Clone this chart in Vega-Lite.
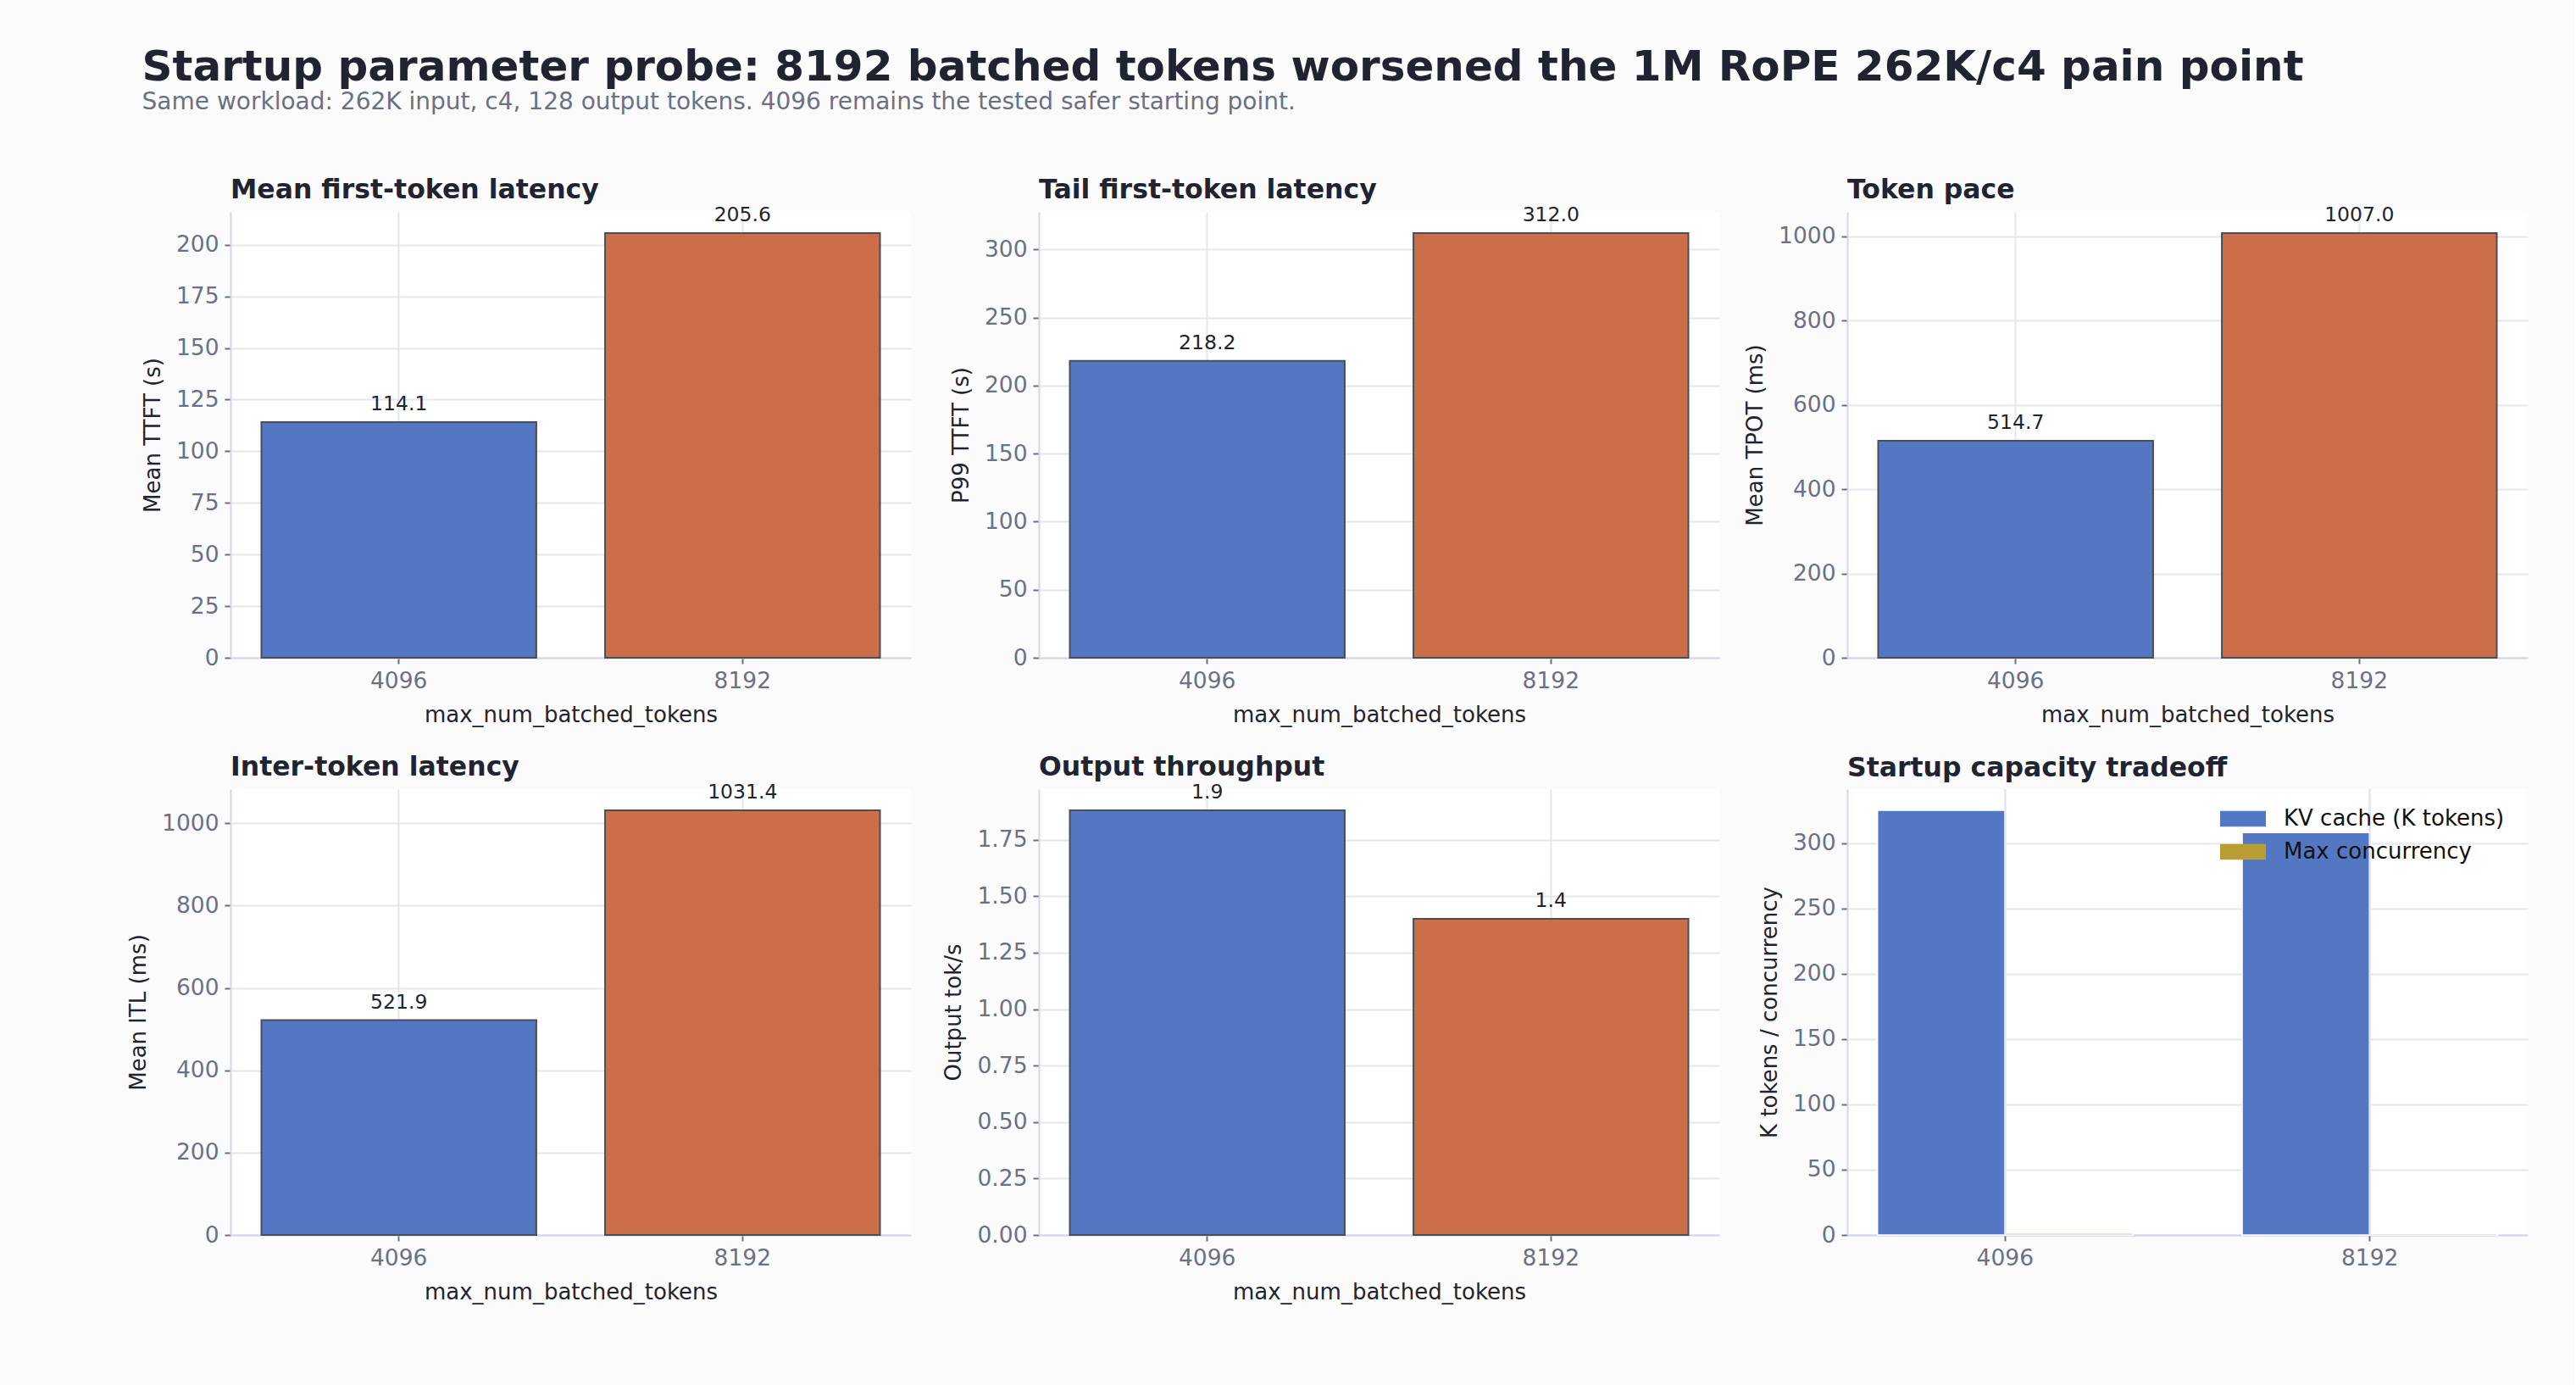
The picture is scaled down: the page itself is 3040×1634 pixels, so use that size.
{
  "$schema": "https://vega.github.io/schema/vega-lite/v6.json",
  "background": "#fbfbfc",
  "padding": {"left": 150, "top": 54, "right": 56, "bottom": 98},
  "title": {
    "text": "Startup parameter probe: 8192 batched tokens worsened the 1M RoPE 262K/c4 pain point",
    "subtitle": "Same workload: 262K input, c4, 128 output tokens. 4096 remains the tested safer starting point.",
    "anchor": "start",
    "frame": "bounds",
    "dx": 17,
    "fontSize": 50,
    "fontWeight": "bold",
    "color": "#1f2430",
    "subtitleFontSize": 28,
    "subtitleColor": "#6b7185",
    "subtitlePadding": 2,
    "offset": 74
  },
  "datasets": {
    "metrics": [
      {"panel": "ttft_mean", "batch": "4096", "value": 114.1},
      {"panel": "ttft_mean", "batch": "8192", "value": 205.6},
      {"panel": "ttft_p99", "batch": "4096", "value": 218.2},
      {"panel": "ttft_p99", "batch": "8192", "value": 312.0},
      {"panel": "tpot", "batch": "4096", "value": 514.7},
      {"panel": "tpot", "batch": "8192", "value": 1007.0},
      {"panel": "itl", "batch": "4096", "value": 521.9},
      {"panel": "itl", "batch": "8192", "value": 1031.4},
      {"panel": "throughput", "batch": "4096", "value": 1.88},
      {"panel": "throughput", "batch": "8192", "value": 1.40}
    ],
    "capacity": [
      {"batch": "4096", "series": "KV cache (K tokens)", "value": 325},
      {"batch": "4096", "series": "Max concurrency", "value": 1.25},
      {"batch": "8192", "series": "KV cache (K tokens)", "value": 308},
      {"batch": "8192", "series": "Max concurrency", "value": 1.2}
    ]
  },
  "columns": 3,
  "bounds": "flush",
  "spacing": {"row": 155, "column": 151},
  "resolve": {"scale": {"color": "independent"}, "legend": {"color": "independent"}},
  "concat": [
    {
      "title": "Mean first-token latency",
      "width": 803, "height": 526,
      "data": {"name": "metrics"},
      "transform": [{"filter": "datum.panel === 'ttft_mean'"}],
      "encoding": {
        "x": {"field": "batch", "type": "nominal", "sort": ["4096", "8192"], "scale": {"paddingInner": 0.2, "paddingOuter": 0.09}, "axis": {"title": "max_num_batched_tokens", "grid": true, "bandPosition": 0.5}},
        "y": {"field": "value", "type": "quantitative", "scale": {"domain": [0, 215.88], "nice": false}, "axis": {"title": "Mean TTFT (s)", "format": "d", "values": [0, 25, 50, 75, 100, 125, 150, 175, 200]}}
      },
      "layer": [
        {"mark": {"type": "bar", "stroke": "#4a4e57", "strokeWidth": 2}, "encoding": {"color": {"field": "batch", "type": "nominal", "scale": {"domain": ["4096", "8192"], "range": ["#5477c4", "#cc6f48"]}, "legend": null}}},
        {"mark": {"type": "text", "dy": -14, "baseline": "alphabetic", "fontSize": 23.5, "color": "#1f2430"}, "encoding": {"text": {"field": "value", "type": "quantitative", "format": ".1f"}}}
      ]
    },
    {
      "title": "Tail first-token latency",
      "width": 803, "height": 526,
      "data": {"name": "metrics"},
      "transform": [{"filter": "datum.panel === 'ttft_p99'"}],
      "encoding": {
        "x": {"field": "batch", "type": "nominal", "sort": ["4096", "8192"], "scale": {"paddingInner": 0.2, "paddingOuter": 0.09}, "axis": {"title": "max_num_batched_tokens", "grid": true, "bandPosition": 0.5}},
        "y": {"field": "value", "type": "quantitative", "scale": {"domain": [0, 327.6], "nice": false}, "axis": {"title": "P99 TTFT (s)", "format": "d", "values": [0, 50, 100, 150, 200, 250, 300]}}
      },
      "layer": [
        {"mark": {"type": "bar", "stroke": "#4a4e57", "strokeWidth": 2}, "encoding": {"color": {"field": "batch", "type": "nominal", "scale": {"domain": ["4096", "8192"], "range": ["#5477c4", "#cc6f48"]}, "legend": null}}},
        {"mark": {"type": "text", "dy": -14, "baseline": "alphabetic", "fontSize": 23.5, "color": "#1f2430"}, "encoding": {"text": {"field": "value", "type": "quantitative", "format": ".1f"}}}
      ]
    },
    {
      "title": "Token pace",
      "width": 803, "height": 526,
      "data": {"name": "metrics"},
      "transform": [{"filter": "datum.panel === 'tpot'"}],
      "encoding": {
        "x": {"field": "batch", "type": "nominal", "sort": ["4096", "8192"], "scale": {"paddingInner": 0.2, "paddingOuter": 0.09}, "axis": {"title": "max_num_batched_tokens", "grid": true, "bandPosition": 0.5}},
        "y": {"field": "value", "type": "quantitative", "scale": {"domain": [0, 1057.35], "nice": false}, "axis": {"title": "Mean TPOT (ms)", "format": "d", "values": [0, 200, 400, 600, 800, 1000]}}
      },
      "layer": [
        {"mark": {"type": "bar", "stroke": "#4a4e57", "strokeWidth": 2}, "encoding": {"color": {"field": "batch", "type": "nominal", "scale": {"domain": ["4096", "8192"], "range": ["#5477c4", "#cc6f48"]}, "legend": null}}},
        {"mark": {"type": "text", "dy": -14, "baseline": "alphabetic", "fontSize": 23.5, "color": "#1f2430"}, "encoding": {"text": {"field": "value", "type": "quantitative", "format": ".1f"}}}
      ]
    },
    {
      "title": "Inter-token latency",
      "width": 803, "height": 526,
      "data": {"name": "metrics"},
      "transform": [{"filter": "datum.panel === 'itl'"}],
      "encoding": {
        "x": {"field": "batch", "type": "nominal", "sort": ["4096", "8192"], "scale": {"paddingInner": 0.2, "paddingOuter": 0.09}, "axis": {"title": "max_num_batched_tokens", "grid": true, "bandPosition": 0.5}},
        "y": {"field": "value", "type": "quantitative", "scale": {"domain": [0, 1082.97], "nice": false}, "axis": {"title": "Mean ITL (ms)", "format": "d", "values": [0, 200, 400, 600, 800, 1000]}}
      },
      "layer": [
        {"mark": {"type": "bar", "stroke": "#4a4e57", "strokeWidth": 2}, "encoding": {"color": {"field": "batch", "type": "nominal", "scale": {"domain": ["4096", "8192"], "range": ["#5477c4", "#cc6f48"]}, "legend": null}}},
        {"mark": {"type": "text", "dy": -14, "baseline": "alphabetic", "fontSize": 23.5, "color": "#1f2430"}, "encoding": {"text": {"field": "value", "type": "quantitative", "format": ".1f"}}}
      ]
    },
    {
      "title": "Output throughput",
      "width": 803, "height": 526,
      "data": {"name": "metrics"},
      "transform": [{"filter": "datum.panel === 'throughput'"}],
      "encoding": {
        "x": {"field": "batch", "type": "nominal", "sort": ["4096", "8192"], "scale": {"paddingInner": 0.2, "paddingOuter": 0.09}, "axis": {"title": "max_num_batched_tokens", "grid": true, "bandPosition": 0.5}},
        "y": {"field": "value", "type": "quantitative", "scale": {"domain": [0, 1.974], "nice": false}, "axis": {"title": "Output tok/s", "format": ".2f", "values": [0, 0.25, 0.5, 0.75, 1.0, 1.25, 1.5, 1.75]}}
      },
      "layer": [
        {"mark": {"type": "bar", "stroke": "#4a4e57", "strokeWidth": 2}, "encoding": {"color": {"field": "batch", "type": "nominal", "scale": {"domain": ["4096", "8192"], "range": ["#5477c4", "#cc6f48"]}, "legend": null}}},
        {"mark": {"type": "text", "dy": -14, "baseline": "alphabetic", "fontSize": 23.5, "color": "#1f2430"}, "encoding": {"text": {"field": "value", "type": "quantitative", "format": ".1f"}}}
      ]
    },
    {
      "title": {"text": "Startup capacity tradeoff", "offset": 8},
      "width": 803, "height": 526,
      "data": {"name": "capacity"},
      "encoding": {
        "x": {"field": "batch", "type": "nominal", "sort": ["4096", "8192"], "scale": {"paddingInner": 0.3, "paddingOuter": 0.083}, "axis": {"title": null, "grid": true, "bandPosition": 0.5}}
      },
      "layer": [
        {
          "mark": {"type": "bar", "stroke": "#ffffff", "strokeWidth": 1.5},
          "encoding": {
            "xOffset": {"field": "series", "type": "nominal", "sort": ["KV cache (K tokens)", "Max concurrency"], "scale": {"paddingInner": 0.0, "paddingOuter": 0}},
            "y": {"field": "value", "type": "quantitative", "scale": {"domain": [0, 341.25], "nice": false}, "axis": {"title": "K tokens / concurrency", "format": "d", "values": [0, 50, 100, 150, 200, 250, 300]}},
            "color": {"field": "series", "type": "nominal", "scale": {"domain": ["KV cache (K tokens)", "Max concurrency"], "range": ["#5477c4", "#b89d35"]}, "legend": {"title": null, "orient": "none", "legendX": 453, "legendY": 21, "padding": 0, "labelFontSize": 26, "labelColor": "#111111", "labelFont": "DejaVu Sans", "labelLimit": 800, "symbolType": "M-1.93,-0.66L1.93,-0.66L1.93,0.66L-1.93,0.66Z", "symbolSize": 784, "symbolStrokeWidth": 0, "symbolOpacity": 1, "labelOffset": 34, "rowPadding": 12}}
          }
        },
        {
          "mark": {"type": "rule", "color": "#e4e7f0", "strokeWidth": 2},
          "encoding": {"x": {"field": "batch", "type": "nominal", "sort": ["4096", "8192"], "bandPosition": 0.5}}
        }
      ]
    }
  ],
  "config": {
    "font": "DejaVu Sans",
    "view": {"fill": "#ffffff", "stroke": null},
    "axis": {
      "zindex": 1,
      "gridColor": "#e4e7f0",
      "gridWidth": 2,
      "domainColor": "#d3d7e6",
      "domainWidth": 2,
      "tickColor": "#6b7185",
      "tickWidth": 2,
      "tickSize": 7,
      "labelColor": "#6b7185",
      "labelFontSize": 26.5,
      "labelFont": "DejaVu Sans",
      "labelPadding": 7,
      "titleColor": "#1f2430",
      "titleFontSize": 26,
      "titleFontWeight": "normal",
      "titleFont": "DejaVu Sans",
      "titlePadding": 14
    },
    "axisX": {"labelAngle": 0},
    "title": {"anchor": "start", "frame": "group", "fontSize": 31.5, "fontWeight": "bold", "color": "#1f2430", "offset": 2, "font": "DejaVu Sans"}
  }
}
